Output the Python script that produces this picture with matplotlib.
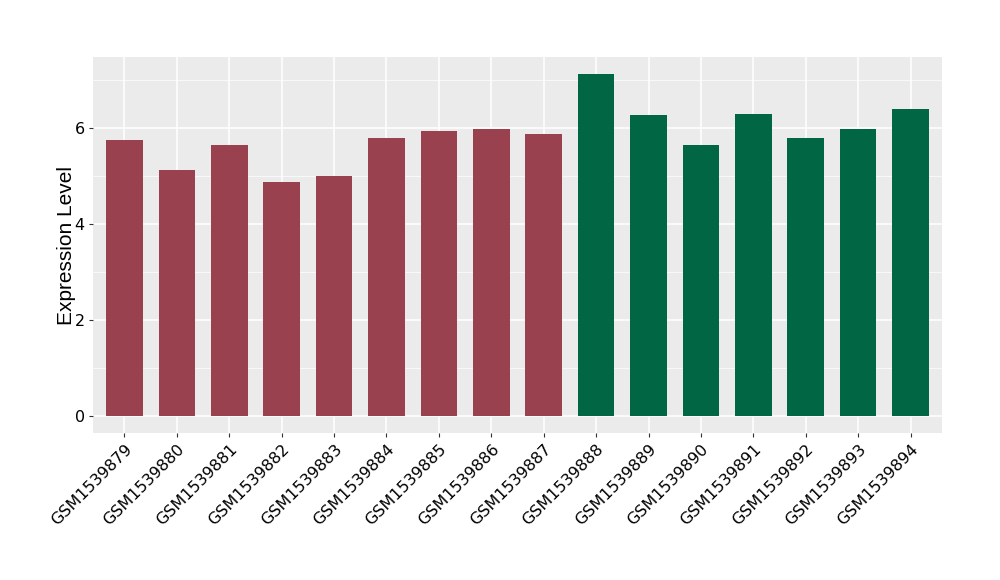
import matplotlib.pyplot as plt
import numpy as np

samples = ['GSM1539879', 'GSM1539880', 'GSM1539881', 'GSM1539882', 'GSM1539883',
           'GSM1539884', 'GSM1539885', 'GSM1539886', 'GSM1539887', 'GSM1539888',
           'GSM1539889', 'GSM1539890', 'GSM1539891', 'GSM1539892', 'GSM1539893',
           'GSM1539894']
values = [5.75, 5.13, 5.65, 4.88, 5.0, 5.79, 5.94, 5.98, 5.88, 7.13,
          6.27, 5.65, 6.29, 5.79, 5.98, 6.40]
groups = ['a'] * 9 + ['b'] * 7
group_colors = {'a': '#9A4150', 'b': '#006644'}

fig = plt.figure(figsize=(10, 5.8), dpi=100)
ax = fig.add_axes([0.093, 0.2534, 0.849, 0.6483])
ax.set_facecolor('#EBEBEB')

x = np.arange(len(samples))
ax.bar(x, values, width=0.7, color=[group_colors[g] for g in groups], zorder=3)

ax.set_xlim(-0.6, len(samples) - 0.4)
ax.set_ylim(-0.356, 7.48)
ax.set_yticks([0, 2, 4, 6])
ax.set_yticks([1, 3, 5, 7], minor=True)
ax.set_xticks(x)
ax.set_xticklabels(samples, rotation=45, ha='right', rotation_mode='anchor', fontsize=11.5)
ax.tick_params(axis='y', labelsize=11.5)
ax.tick_params(which='major', length=3, color='#333333', pad=3)
ax.tick_params(which='minor', length=0)
ax.grid(which='major', color='white', linewidth=1.1, zorder=0)
ax.grid(which='minor', axis='y', color='white', linewidth=0.5, zorder=0)
ax.set_axisbelow(True)
for s in ax.spines.values():
    s.set_visible(False)
ax.set_ylabel('Expression Level', fontsize=15, labelpad=-1,
              family=['Liberation Sans', 'DejaVu Sans'])

fig.savefig('out.png', dpi=100)
